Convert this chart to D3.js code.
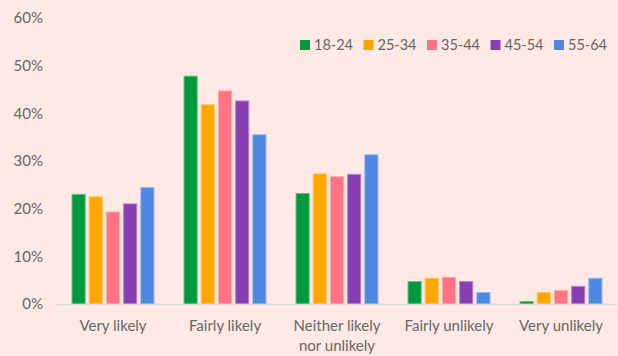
<!DOCTYPE html>
<html>
<head>
<meta charset="utf-8">
<script src="https://cdn.jsdelivr.net/npm/d3@7"></script>
<style>
  html, body { margin: 0; padding: 0; background: #ffe9e4; }
  svg { display: block; }
  text { font-family: Lato, "Open Sans", sans-serif; fill: #666; }
</style>
</head>
<body>
<svg id="chart" width="618" height="356"></svg>
<script>
// Likelihood answers by age group (share of respondents, %)
const categories = ["Very likely", "Fairly likely", "Neither likely\nnor unlikely", "Fairly unlikely", "Very unlikely"];
const seriesNames = ["18-24", "25-34", "35-44", "45-54", "55-64"];
const s1824 = [23.1, 47.9, 23.3, 4.8, 0.6];
const s2534 = [22.6, 41.9, 27.4, 5.5, 2.5];
const s3544 = [19.4, 44.8, 26.8, 5.7, 2.9];
const s4554 = [21.1, 42.7, 27.3, 4.8, 3.8];
const s5564 = [24.5, 35.6, 31.4, 2.5, 5.5];
const yTicks = [0, 10, 20, 30, 40, 50, 60];
const colors = ["#009a3e", "#ffa500", "#ff7385", "#8b3db2", "#4e88e0"];

const series = [s1824, s2534, s3544, s4554, s5564];

const svg = d3.select("#chart");
const margin = { left: 57, right: 1, top: 18, bottom: 52 };
const W = 618, H = 356;

const x0 = d3.scaleBand().domain(categories).range([margin.left, W - margin.right])
  .paddingInner(0.26).paddingOuter(0.13);
const x1 = d3.scaleBand().domain(seriesNames).range([0, x0.bandwidth()]).paddingInner(0.18);
const y = d3.scaleLinear().domain([0, 60]).range([H - margin.bottom, margin.top]);

// Y axis labels
const yAxis = d3.axisLeft(y).tickValues(yTicks).tickFormat(d => d + "%").tickSize(0).tickPadding(14);
const gy = svg.append("g").attr("transform", `translate(${margin.left},0)`).call(yAxis);
gy.select(".domain").remove();
gy.selectAll("text").style("font-size", "15px").attr("fill", "#666");

// Bars
const groups = svg.append("g").selectAll("g").data(categories).join("g")
  .attr("transform", d => `translate(${x0(d)},0)`);
groups.selectAll("rect")
  .data((c, ci) => seriesNames.map((s, si) => ({ s, si, v: series[si][ci] })))
  .join("rect")
  .attr("x", d => x1(d.s) + 0.5)
  .attr("y", d => y(d.v) + 0.5)
  .attr("width", x1.bandwidth() - 1)
  .attr("height", d => y(0) - y(d.v) - 0.5)
  .attr("fill", d => colors[d.si])
  .attr("stroke", d => d3.interpolateRgb(colors[d.si], "#ffffff")(0.35))
  .attr("stroke-width", 1);

// Baseline
svg.append("line")
  .attr("x1", margin.left).attr("x2", W - margin.right)
  .attr("y1", y(0) + 0.5).attr("y2", y(0) + 0.5)
  .attr("stroke", "#d9d9d9").attr("stroke-width", 1.5);

// X axis labels
const xAxis = d3.axisBottom(x0).tickSize(0).tickPadding(0);
const gx = svg.append("g").attr("transform", `translate(0,${y(0)})`).call(xAxis);
gx.select(".domain").remove();
gx.selectAll("text").each(function (d) {
  const t = d3.select(this).text("").attr("y", 0).attr("dy", null).style("font-size", "15px").attr("fill", "#666");
  d.split("\n").forEach((line, i) => {
    t.append("tspan").attr("x", 0).attr("y", 27 + i * 20).text(line);
  });
});

// Legend
const legend = svg.append("g").attr("transform", "translate(300,45)");
const li = legend.selectAll("g").data(seriesNames).join("g")
  .attr("transform", (d, i) => `translate(${i * 63.5},0)`);
li.append("rect").attr("x", 0).attr("y", -5).attr("width", 10).attr("height", 10)
  .attr("fill", (d, i) => colors[i]);
li.append("text").attr("x", 14).attr("y", 0).attr("dy", "0.35em")
  .style("font-size", "14.5px").attr("fill", "#666").text(d => d);
</script>
</body>
</html>
